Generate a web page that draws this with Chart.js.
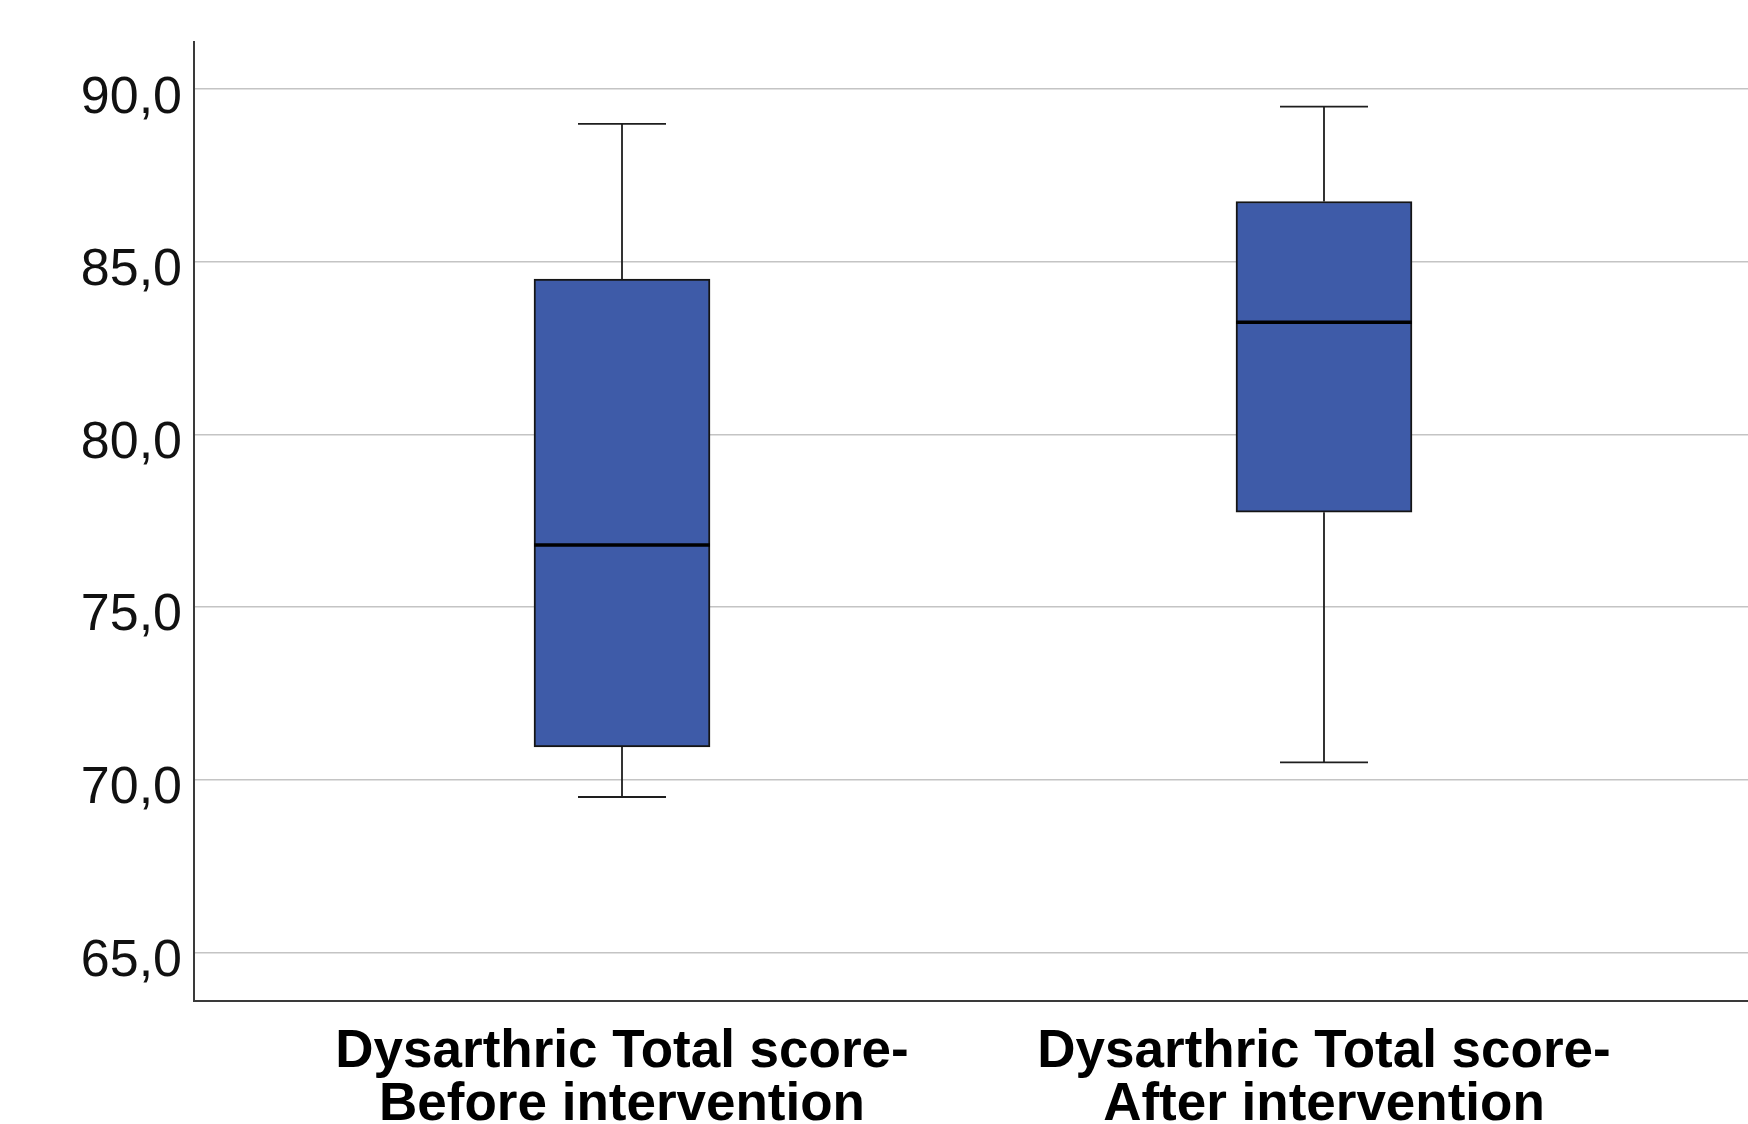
<!DOCTYPE html>
<html>
<head>
<meta charset="utf-8">
<script src="https://cdn.jsdelivr.net/npm/chart.js@4/dist/chart.umd.min.js"></script>
<style>
  html, body { margin: 0; padding: 0; background: #fff; overflow: hidden; }
  #wrap { width: 1748px; height: 1124px; position: relative; }
</style>
</head>
<body>
<div id="wrap"><canvas id="chart"></canvas></div>
<script>
// Box plot summary for the two measurement points
const categories = [
  ["Dysarthric Total score-", "Before intervention"],
  ["Dysarthric Total score-", "After intervention"]
];
const positions   = [1, 2];
const whiskerLow  = [69.5, 70.5];
const quartile1   = [70.95, 77.75];
const medians     = [76.8, 83.25];
const quartile3   = [84.5, 86.75];
const whiskerHigh = [89.0, 89.5];
const yTicks      = [65, 70, 75, 80, 85, 90];

const boxData = positions.map((p, i) => ({ x: p, y: [quartile1[i], quartile3[i]] }));

// Whiskers, caps and median lines drawn on top of the boxes
const boxExtras = {
  id: 'boxExtras',
  afterDatasetsDraw(chart) {
    const { ctx, scales: { y } } = chart;
    const meta = chart.getDatasetMeta(0);
    ctx.save();
    meta.data.forEach((bar, i) => {
      const cx = bar.x;
      const half = bar.width / 2;
      const cap = bar.width / 4;
      const yHi = y.getPixelForValue(whiskerHigh[i]);
      const yQ3 = y.getPixelForValue(quartile3[i]);
      const yQ1 = y.getPixelForValue(quartile1[i]);
      const yLo = y.getPixelForValue(whiskerLow[i]);
      const yMed = y.getPixelForValue(medians[i]);

      ctx.strokeStyle = '#1e1e1e';
      ctx.lineWidth = 1.8;
      ctx.beginPath();
      ctx.moveTo(cx, yHi); ctx.lineTo(cx, yQ3);
      ctx.moveTo(cx, yQ1); ctx.lineTo(cx, yLo);
      ctx.moveTo(cx - cap, yHi); ctx.lineTo(cx + cap, yHi);
      ctx.moveTo(cx - cap, yLo); ctx.lineTo(cx + cap, yLo);
      ctx.stroke();

      ctx.strokeStyle = '#000';
      ctx.lineWidth = 3.4;
      ctx.beginPath();
      ctx.moveTo(cx - half, yMed); ctx.lineTo(cx + half, yMed);
      ctx.stroke();
    });
    ctx.restore();
  }
};

new Chart(document.getElementById('chart'), {
  type: 'bar',
  data: {
    datasets: [{
      data: boxData,
      backgroundColor: '#3e5ba8',
      borderColor: '#151515',
      borderWidth: 2,
      borderSkipped: false,
      barThickness: 176
    }]
  },
  options: {
    responsive: true,
    maintainAspectRatio: false,
    animation: false,
    layout: { padding: { top: 42, right: 0, bottom: 0, left: 0 } },
    plugins: { legend: { display: false }, tooltip: { enabled: false } },
    scales: {
      x: {
        type: 'linear',
        offset: false,
        bounds: 'data',
        min: 0.3903,
        max: 2.604,
        afterBuildTicks(scale) { scale.ticks = positions.map(v => ({ value: v })); },
        afterFit(scale) { scale.height = 123; scale.paddingLeft = 0; scale.paddingRight = 0; },
        grid: { drawOnChartArea: false, drawTicks: false, offset: false },
        border: { display: true, color: '#3a3a3a', width: 2 },
        ticks: {
          autoSkip: false,
          maxRotation: 0,
          padding: 25,
          color: '#000',
          font: { family: '"Liberation Sans", Arial, sans-serif', size: 53, weight: 'bold', lineHeight: 1.0 },
          callback: (v) => categories[positions.indexOf(v)] || ''
        }
      },
      y: {
        min: 63.59,
        max: 91.37,
        afterBuildTicks(scale) { scale.ticks = yTicks.map(v => ({ value: v })); },
        afterFit(scale) { scale.width = 194; scale.paddingTop = 0; scale.paddingBottom = 0; },
        grid: { color: '#c4c4c4', lineWidth: 1.6, drawTicks: false },
        border: { display: true, color: '#3a3a3a', width: 2 },
        ticks: {
          padding: 12,
          labelOffset: 9,
          color: '#111',
          font: { family: '"Liberation Sans", Arial, sans-serif', size: 52 },
          callback: (v) => v.toFixed(1).replace('.', ',')
        }
      }
    }
  },
  plugins: [boxExtras]
});
</script>
</body>
</html>
